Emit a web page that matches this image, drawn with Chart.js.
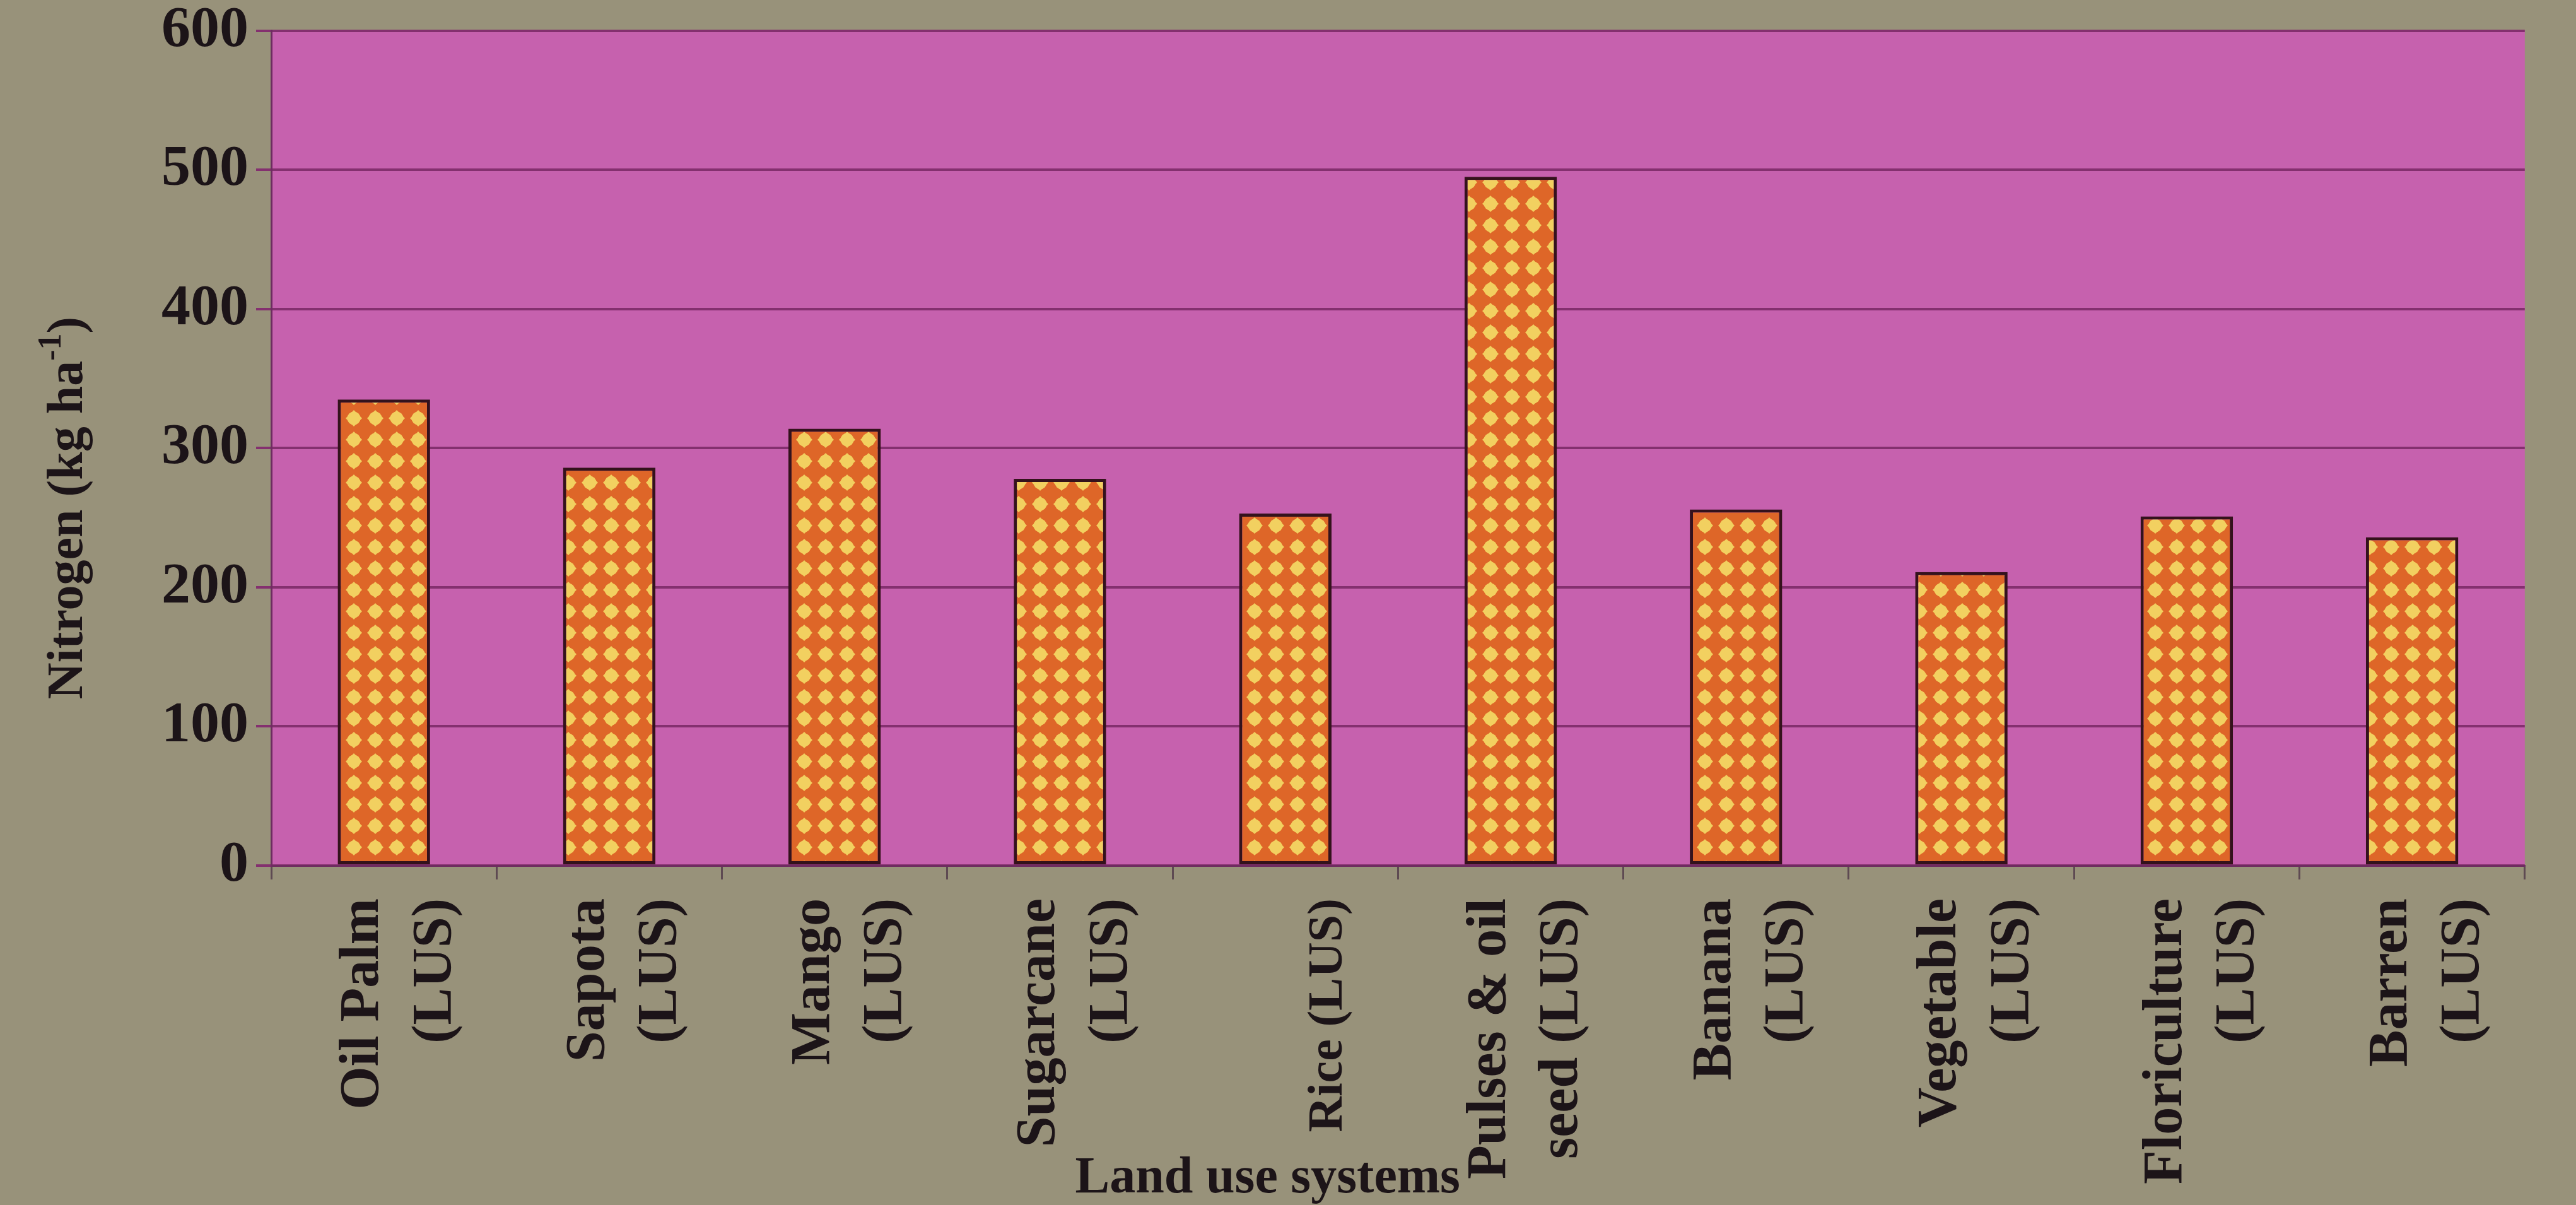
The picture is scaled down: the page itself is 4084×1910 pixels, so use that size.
<!DOCTYPE html>
<html lang="en">
<head>
    <meta charset="UTF-8">
    <title>Nitrogen by land use system</title>
    <script src="https://cdn.jsdelivr.net/npm/chart.js@4"></script>
    <style>
        html, body { margin: 0; padding: 0; background: #98927a; }
        canvas { display: block; }
    </style>
</head>
<body>
    <canvas id="nitrogenChart" width="4084" height="1910"></canvas>

    <script>
        // data
        const landUse = [
            ['Oil Palm', '(LUS)'],
            ['Sapota', '(LUS)'],
            ['Mango', '(LUS)'],
            ['Sugarcane', '(LUS)'],
            ['', 'Rice (LUS)'],   // empty first line keeps it centred under its bar
            ['Pulses & oil', 'seed (LUS)'],
            ['Banana', '(LUS)'],
            ['Vegetable', '(LUS)'],
            ['Floriculture', '(LUS)'],
            ['Barren', '(LUS)']
        ];
        const nitrogen = [335, 286, 314, 278, 253, 495, 256, 211, 251, 236];
        const yTicks = [0, 100, 200, 300, 400, 500, 600];

        const FONT = '"Liberation Serif", "Times New Roman", serif';

        // orange with yellow diamonds
        function dotPattern() {
            const t = 34, h = t / 2;
            const c = document.createElement('canvas');
            c.width = t;
            c.height = t;
            const g = c.getContext('2d');
            g.fillStyle = '#de6628';
            g.fillRect(0, 0, t, t);
            g.fillStyle = '#f2d060';
            g.beginPath();
            g.moveTo(h, h - 13);
            g.lineTo(h + 13, h);
            g.lineTo(h, h + 13);
            g.lineTo(h - 13, h);
            g.closePath();
            g.fill();
            g.beginPath();
            g.arc(h, h, 10.5, 0, Math.PI * 2);
            g.fill();
            return g.createPattern(c, 'repeat');
        }

        const backdrop = {
            id: 'backdrop',
            beforeDraw(chart) {
                const { ctx, chartArea: a } = chart;
                ctx.save();
                ctx.fillStyle = '#98927a';
                ctx.fillRect(0, 0, chart.width, chart.height);
                ctx.fillStyle = '#c661ae';
                ctx.fillRect(a.left, a.top, a.right - a.left, a.bottom - a.top);
                ctx.restore();
            }
        };

        // axis titles drawn by hand (superscript, and the x title sits among the labels)
        const titles = {
            id: 'titles',
            afterDraw(chart) {
                const ctx = chart.ctx;
                ctx.save();
                ctx.fillStyle = '#1c1418';
                ctx.textBaseline = 'alphabetic';

                // y title
                const big = 'bold 80px ' + FONT;
                const small = 'bold 52px ' + FONT;
                const p1 = 'Nitrogen (kg ha', p2 = '-1', p3 = ')';
                ctx.font = big;
                const w1 = ctx.measureText(p1).width, w3 = ctx.measureText(p3).width;
                ctx.font = small;
                const w2 = ctx.measureText(p2).width;
                const total = w1 + w2 + w3;
                ctx.translate(130, 805);
                ctx.rotate(-Math.PI / 2);
                let x = -total / 2;
                ctx.font = big;
                ctx.fillText(p1, x, 0);
                x += w1;
                ctx.font = small;
                ctx.fillText(p2, x, -34);
                x += w2;
                ctx.font = big;
                ctx.fillText(p3, x, 0);
                ctx.setTransform(1, 0, 0, 1, 0, 0);

                // x title
                const xs = chart.scales.x;
                ctx.font = 'bold 82px ' + FONT;
                ctx.textAlign = 'center';
                ctx.fillText('Land use systems', xs.getPixelForValue(4) - 28, 1890);
                ctx.restore();
            }
        };

        const ctx = document.getElementById('nitrogenChart').getContext('2d');
        new Chart(ctx, {
            type: 'bar',
            data: {
                labels: landUse,
                datasets: [{
                    label: 'Nitrogen',
                    data: nitrogen,
                    backgroundColor: dotPattern(),
                    borderColor: '#34121c',
                    borderWidth: 5,
                    borderSkipped: false,
                    barPercentage: 0.41,
                    categoryPercentage: 1
                }]
            },
            options: {
                responsive: false,
                animation: false,
                layout: { padding: { top: 44, right: 21, left: 0, bottom: 0 } },
                plugins: {
                    legend: { display: false },
                    tooltip: { enabled: false }
                },
                scales: {
                    x: {
                        afterFit: s => { s.height = 538; },
                        grid: {
                            offset: true,
                            drawOnChartArea: false,
                            drawTicks: true,
                            tickLength: 22,
                            color: '#5e4a52',
                            lineWidth: 3
                        },
                        border: { display: true, color: '#6e2c60', width: 3 },
                        ticks: {
                            autoSkip: false,
                            minRotation: 90,
                            maxRotation: 90,
                            padding: 30,
                            labelOffset: -32,
                            color: '#1c1418',
                            // the Rice label is set tighter in the original
                            font: c => ({
                                family: FONT,
                                weight: 'bold',
                                size: c.index === 4 ? 78 : 88,
                                lineHeight: 1.3
                            })
                        }
                    },
                    y: {
                        min: yTicks[0],
                        max: yTicks[yTicks.length - 1],
                        afterFit: s => { s.width = 430; },
                        afterBuildTicks: s => { s.ticks = yTicks.map(v => ({ value: v })); },
                        grid: {
                            color: '#84306f',
                            lineWidth: 4,
                            tickLength: 24
                        },
                        border: { display: true, color: '#6e2c60', width: 3 },
                        ticks: {
                            padding: 12,
                            color: '#1c1418',
                            font: { family: FONT, weight: 'bold', size: 92, lineHeight: 0.8 }
                        }
                    }
                }
            },
            plugins: [backdrop, titles]
        });
    </script>
</body>
</html>
